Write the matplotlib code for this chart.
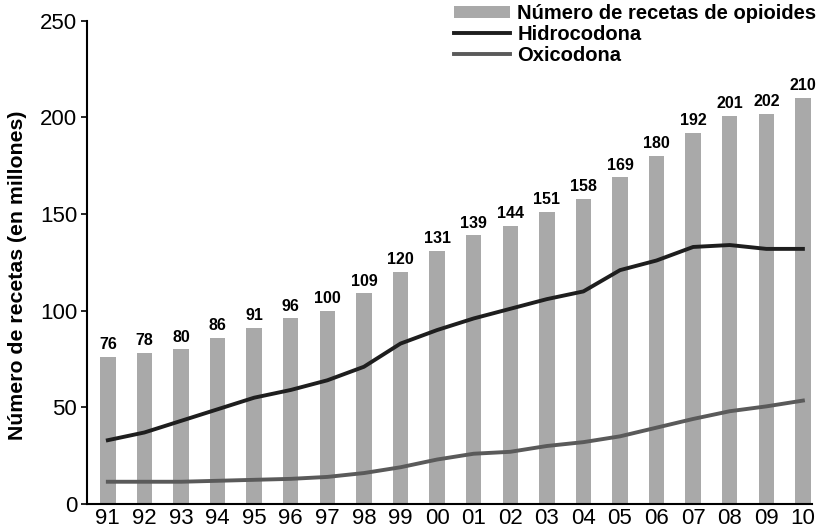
import matplotlib.pyplot as plt

years = ['91', '92', '93', '94', '95', '96', '97', '98', '99', '00',
         '01', '02', '03', '04', '05', '06', '07', '08', '09', '10']
recetas = [76, 78, 80, 86, 91, 96, 100, 109, 120, 131,
           139, 144, 151, 158, 169, 180, 192, 201, 202, 210]
hidrocodona = [33, 37, 43, 49, 55, 59, 64, 71, 83, 90,
               96, 101, 106, 110, 121, 126, 133, 134, 132, 132]
oxicodona = [11.5, 11.5, 11.5, 12, 12.5, 13, 14, 16, 19, 23,
             26, 27, 30, 32, 35, 39.5, 44, 48, 50.5, 53.5]

plt.rcParams['font.family'] = ['Liberation Sans', 'DejaVu Sans']

fig = plt.figure(figsize=(8.23, 5.28), dpi=100)
ax = fig.add_axes([0.1057, 0.0455, 0.881, 0.915])

x = list(range(len(years)))
b = ax.bar(x, recetas, width=0.42, color='#a9a9a9', zorder=1)
l1, = ax.plot(x, hidrocodona, color='#1e1e1e', lw=2.8, zorder=3)
l2, = ax.plot(x, oxicodona, color='#5a5a5a', lw=2.8, zorder=3)

for xi, v in zip(x, recetas):
    ax.text(xi, v + 2.5, str(v), ha='center', va='bottom', fontsize=11.5, fontweight='bold')

ax.set_xlim(-0.57, 19.25)
ax.set_ylim(0, 250)
ax.set_xticks(x)
ax.set_xticklabels(years, fontsize=16)
ax.set_yticks([0, 50, 100, 150, 200, 250])
ax.tick_params(axis='y', labelsize=16, length=4, width=1.2, pad=3)
ax.tick_params(axis='x', length=0, pad=3)
ax.set_ylabel('Número de recetas (en millones)', fontsize=15.3, fontweight='bold')
ax.yaxis.set_label_coords(-0.083, 0.474)

ax.spines['top'].set_visible(False)
ax.spines['right'].set_visible(False)
ax.spines['left'].set_linewidth(1.5)
ax.spines['bottom'].set_linewidth(1.5)

fig.legend([b, l1, l2], ['Número de recetas de opioides', 'Hidrocodona', 'Oxicodona'],
           loc='upper right', bbox_to_anchor=(0.997, 1.0), frameon=False,
           prop={'weight': 'bold', 'size': 14.5}, handlelength=2.8, handleheight=0.55,
           handletextpad=0.35, labelspacing=0.1, borderaxespad=0, borderpad=0.2)

fig.savefig('out.png', dpi=100)
